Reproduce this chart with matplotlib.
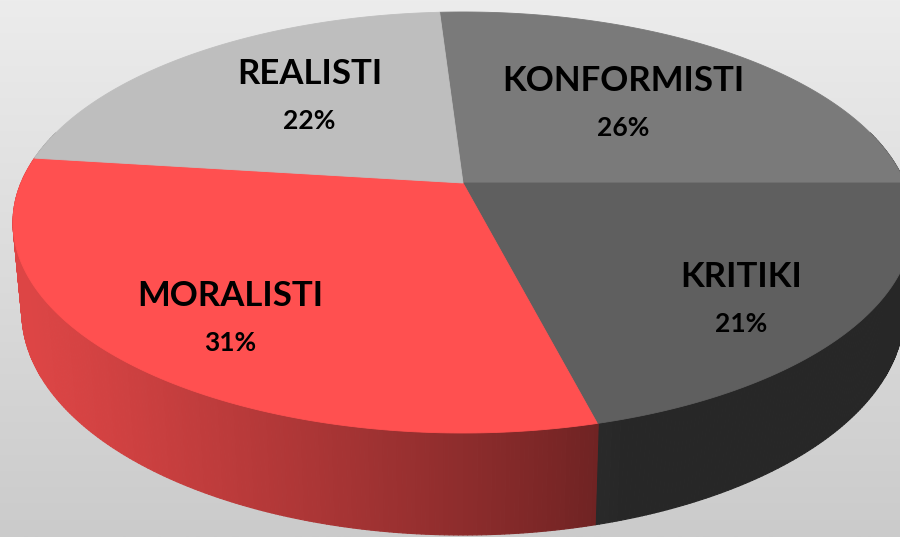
import numpy as np
import matplotlib
matplotlib.use("Agg")
import matplotlib.pyplot as plt
from matplotlib.patches import Polygon
from matplotlib.collections import PolyCollection
from matplotlib.colors import to_rgb

# ---------------- data ----------------
categories = ["KONFORMISTI", "KRITIKI", "MORALISTI", "REALISTI"]
shares = [26, 21, 31, 22]
pct_labels = ["26%", "21%", "31%", "22%"]

# ---------------- style ----------------
top_colors = ["#7a7a7a", "#5f5f5f", "#ff5050", "#bebebe"]
label_r = [0.57, 0.73, 0.715, 0.545]
label_dy = [0, 18, 15, -10]
START = 93.6            # degrees, slices run clockwise
CX, CY = 463.0, 183.0   # projected pie centre (pixels)
A, B, K = 203.1, 442.0, 0.1876   # perspective of top face
M, E = 0.0194, 89.7               # perspective/thickness of bottom face
W, H = 900, 537

plt.rcParams['font.family'] = ['Lato', 'DejaVu Sans']


def project(X, Z, Y=0.0):
    w = 1 + K * Z - M * Y
    return CX + B * X / w, CY + (-A * Z - E * Y) / w


def shade(tdeg):
    s = 0.3925 + 0.4746 * np.cos(np.radians(tdeg - 200.0))
    return max(0.41, min(0.9, s))


fig = plt.figure(figsize=(W / 100, H / 100), dpi=100)
ax = fig.add_axes([0, 0, 1, 1])
ax.set_xlim(0, W)
ax.set_ylim(H, 0)
ax.axis("off")

# background gradient
grad = np.linspace(0, 1, 256)[:, None]
c0 = np.array(to_rgb("#ececec"))
c1 = np.array(to_rgb("#cbcbcb"))
img = c0[None, None, :] * (1 - grad[:, :, None]) + c1[None, None, :] * grad[:, :, None]
ax.imshow(img, extent=[0, W, H, 0], aspect="auto", zorder=0)

# slice angle ranges (clockwise from START)
total = float(sum(shares))
bounds = [START]
for s in shares:
    bounds.append(bounds[-1] - 360.0 * s / total)


def slice_of(tdeg):
    for i in range(len(shares)):
        hi, lo = bounds[i], bounds[i + 1]
        t = tdeg
        while t > hi:
            t -= 360
        while t <= lo:
            t += 360
        if lo < t <= hi:
            return i
    return 0


# side walls
step = 0.5
ts = np.arange(165.0, 375.0, step)
quads, cols, depth = [], [], []
for t0 in ts:
    t1 = t0 + step
    tm = 0.5 * (t0 + t1)
    i = slice_of(tm)
    r0, r1 = np.radians(t0), np.radians(t1)
    p = [project(np.cos(r0), np.sin(r0), 0.0),
         project(np.cos(r1), np.sin(r1), 0.0),
         project(np.cos(r1), np.sin(r1), -1.0),
         project(np.cos(r0), np.sin(r0), -1.0)]
    quads.append(p)
    cols.append(tuple(np.array(to_rgb(top_colors[i])) * shade(tm)))
    depth.append(np.sin(np.radians(tm)))
order = np.argsort(depth)[::-1]
pc = PolyCollection([quads[j] for j in order], facecolors=[cols[j] for j in order],
                    edgecolors=[cols[j] for j in order], linewidths=0.8, zorder=2)
ax.add_collection(pc)

# top faces
for i in range(len(shares)):
    tt = np.radians(np.linspace(bounds[i], bounds[i + 1], 300))
    xs, ys = project(np.cos(tt), np.sin(tt), 0.0)
    pts = [(CX, CY)] + list(zip(xs, ys))
    ax.add_patch(Polygon(pts, closed=True, facecolor=top_colors[i],
                         edgecolor=top_colors[i], linewidth=0.6, zorder=3))

# labels
for i in range(len(shares)):
    mid = np.radians(0.5 * (bounds[i] + bounds[i + 1]))
    r = label_r[i]
    lx, ly = project(r * np.cos(mid), r * np.sin(mid), 0.0)
    ly += label_dy[i]
    ax.text(lx, ly - 23.5, categories[i], ha="center", va="center",
            fontsize=25, fontweight="bold", color="#000000", zorder=5)
    ax.text(lx, ly + 23.5, pct_labels[i], ha="center", va="center",
            fontsize=19, fontweight="bold", color="#000000", zorder=5)

fig.savefig("out.png", dpi=100)
